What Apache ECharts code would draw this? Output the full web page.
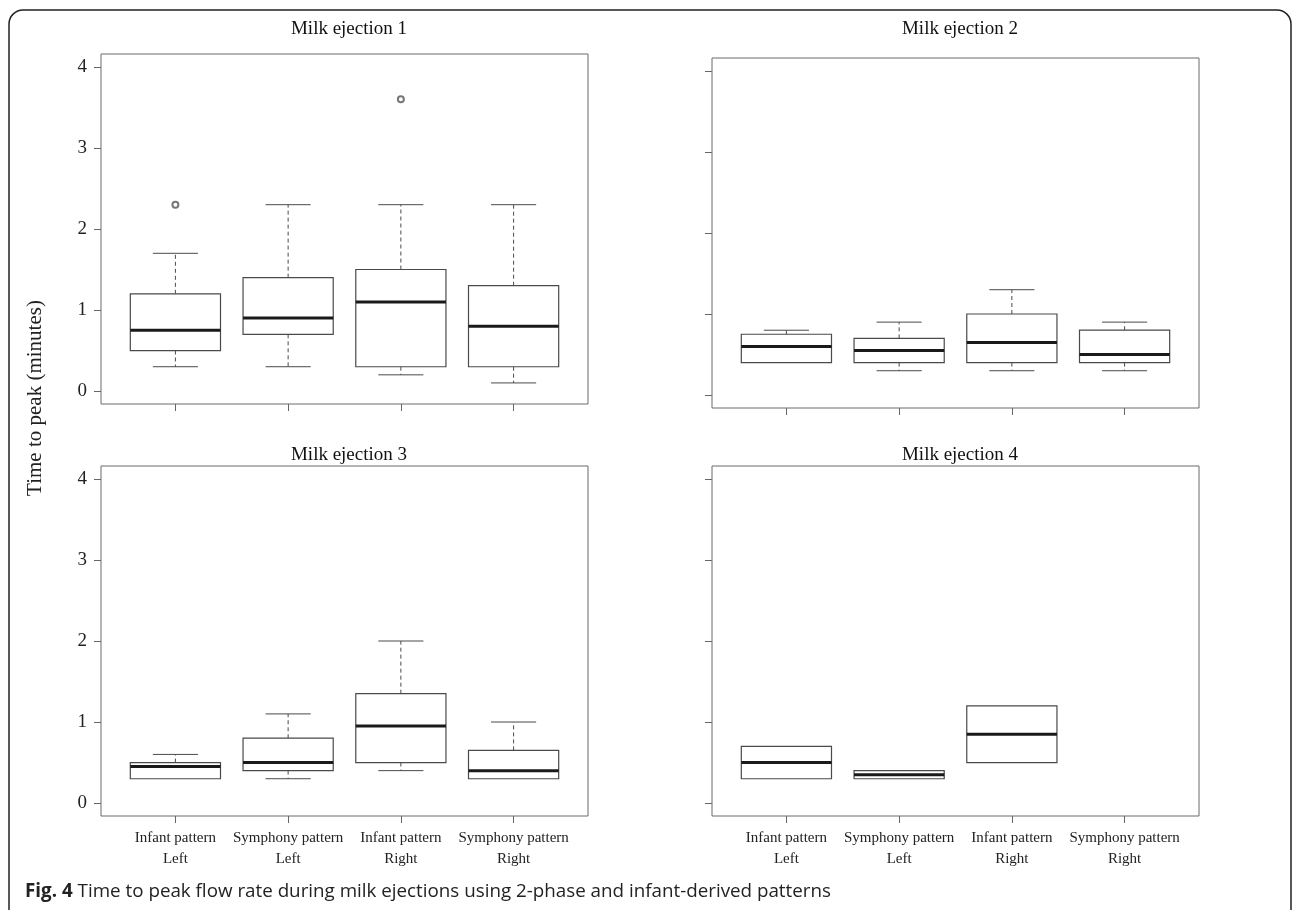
<!DOCTYPE html>
<html>
<head>
<meta charset="utf-8">
<script src="https://cdn.jsdelivr.net/npm/echarts@6/dist/echarts.min.js"></script>
<style>
html,body{margin:0;padding:0;background:#fff;}
#chart{width:1293px;height:910px;}
</style>
</head>
<body>
<div id="chart"></div>
<script>
// ---- Data ----
const categories = ['Infant pattern\nLeft', 'Symphony pattern\nLeft', 'Infant pattern\nRight', 'Symphony pattern\nRight'];
const panelTitles = ['Milk ejection 1', 'Milk ejection 2', 'Milk ejection 3', 'Milk ejection 4'];
const yTicks = [0, 1, 2, 3, 4];
// each box: [lowerWhisker, Q1, median, Q3, upperWhisker]
const boxes1 = [[0.3, 0.5, 0.75, 1.2, 1.7], [0.3, 0.7, 0.9, 1.4, 2.3], [0.2, 0.3, 1.1, 1.5, 2.3], [0.1, 0.3, 0.8, 1.3, 2.3]];
const boxes2 = [[0.4, 0.4, 0.6, 0.75, 0.8], [0.3, 0.4, 0.55, 0.7, 0.9], [0.3, 0.4, 0.65, 1.0, 1.3], [0.3, 0.4, 0.5, 0.8, 0.9]];
const boxes3 = [[0.3, 0.3, 0.45, 0.5, 0.6], [0.3, 0.4, 0.5, 0.8, 1.1], [0.4, 0.5, 0.95, 1.35, 2.0], [0.3, 0.3, 0.4, 0.65, 1.0]];
const boxes4 = [[0.3, 0.3, 0.5, 0.7, 0.7], [0.3, 0.3, 0.35, 0.4, 0.4], [0.5, 0.5, 0.85, 1.2, 1.2], null];
// outliers: [categoryIndex(1-based), value]
const outliers1 = [[1, 2.3], [3, 3.6]];
const outliers2 = [];
const outliers3 = [];
const outliers4 = [];

const allBoxes = [boxes1, boxes2, boxes3, boxes4];
const allOutliers = [outliers1, outliers2, outliers3, outliers4];

const SERIF = '"Liberation Serif", "Times New Roman", serif';
const SANS = '"Open Sans", "Noto Sans", sans-serif';
const gridPos = [
  {left: 101, top: 54, width: 487, height: 350},
  {left: 712, top: 58, width: 487, height: 350},
  {left: 101, top: 466, width: 487, height: 350},
  {left: 712, top: 466, width: 487, height: 350}
];
const titlePos = [
  {x: 344, y: 15}, {x: 955, y: 15}, {x: 344, y: 441}, {x: 955, y: 441}
];

const chart = echarts.init(document.getElementById('chart'));

function renderBox(params, api) {
  const x = api.value(0);
  const lo = api.value(1), q1 = api.value(2), med = api.value(3), q3 = api.value(4), hi = api.value(5);
  const bw = api.size([0.8, 0])[0];
  const cw = api.size([0.4, 0])[0];
  const pLo = api.coord([x, lo]);
  const pQ1 = api.coord([x, q1]);
  const pMed = api.coord([x, med]);
  const pQ3 = api.coord([x, q3]);
  const pHi = api.coord([x, hi]);
  const cx = pMed[0];
  const stroke = '#4a4a4a';
  const children = [];
  if (hi > q3) {
    children.push({type: 'line', shape: {x1: cx, y1: pQ3[1], x2: cx, y2: pHi[1]}, style: {stroke: stroke, lineWidth: 1, lineDash: [4, 3]}});
    children.push({type: 'line', shape: {x1: cx - cw / 2, y1: pHi[1], x2: cx + cw / 2, y2: pHi[1]}, style: {stroke: stroke, lineWidth: 1}});
  }
  if (lo < q1) {
    children.push({type: 'line', shape: {x1: cx, y1: pQ1[1], x2: cx, y2: pLo[1]}, style: {stroke: stroke, lineWidth: 1, lineDash: [4, 3]}});
    children.push({type: 'line', shape: {x1: cx - cw / 2, y1: pLo[1], x2: cx + cw / 2, y2: pLo[1]}, style: {stroke: stroke, lineWidth: 1}});
  }
  children.push({type: 'rect', shape: {x: cx - bw / 2, y: pQ3[1], width: bw, height: pQ1[1] - pQ3[1]}, style: {stroke: stroke, fill: '#fff', lineWidth: 1.2}});
  children.push({type: 'line', shape: {x1: cx - bw / 2, y1: pMed[1], x2: cx + bw / 2, y2: pMed[1]}, style: {stroke: '#1a1a1a', lineWidth: 3}});
  return {type: 'group', children: children};
}

const grids = [], xAxes = [], yAxes = [], series = [], titles = [];
for (let i = 0; i < 4; i++) {
  grids.push(Object.assign({show: true, borderColor: '#6a6a6a', borderWidth: 1, backgroundColor: '#fff'}, gridPos[i]));
  const bottomRow = i >= 2;
  const leftCol = i % 2 === 0;
  xAxes.push({
    type: 'value', gridIndex: i, min: 0.34, max: 4.66, position: 'bottom',
    splitLine: {show: false}, axisLine: {show: false, onZero: false},
    axisTick: {show: true, inside: false, customValues: [1, 2, 3, 4], length: 7, lineStyle: {color: '#666'}},
    axisLabel: {show: bottomRow, customValues: [1, 2, 3, 4], margin: 12,
      formatter: function (v) { return categories[Math.round(v) - 1] || ''; },
      fontFamily: SERIF, fontSize: 15, color: '#222', lineHeight: 21}
  });
  yAxes.push({
    type: 'value', gridIndex: i, min: -0.16, max: 4.16, position: 'left',
    splitLine: {show: false}, axisLine: {show: false, onZero: false},
    axisTick: {show: true, inside: false, customValues: yTicks, length: 7, lineStyle: {color: '#666'}},
    axisLabel: {show: leftCol, customValues: yTicks, margin: 14, fontFamily: SERIF, fontSize: 19, color: '#222'}
  });
  const boxData = [];
  allBoxes[i].forEach(function (b, k) {
    if (b) boxData.push([k + 1].concat(b));
  });
  series.push({
    type: 'custom', xAxisIndex: i, yAxisIndex: i, renderItem: renderBox,
    data: boxData, encode: {x: 0, y: [1, 2, 3, 4, 5]}, silent: true, clip: false
  });
  if (allOutliers[i].length) {
    series.push({
      type: 'scatter', xAxisIndex: i, yAxisIndex: i, data: allOutliers[i], z: 5,
      symbol: 'emptyCircle', symbolSize: 6, itemStyle: {color: '#555', borderColor: '#555', borderWidth: 1}, silent: true
    });
  }
  titles.push({
    text: panelTitles[i], left: titlePos[i].x, top: titlePos[i].y, textAlign: 'center',
    textStyle: {fontFamily: SERIF, fontSize: 19, fontWeight: 'normal', color: '#111'}
  });
}
titles.push({
  text: '{b|Fig. 4} {n|Time to peak flow rate during milk ejections using 2-phase and infant-derived patterns}',
  left: 20, top: 877,
  textStyle: {
    rich: {
      b: {fontFamily: SANS, fontSize: 18.8, fontWeight: 'bold', color: '#222'},
      n: {fontFamily: SANS, fontSize: 18.8, fontWeight: 'normal', color: '#222'}
    }
  }
});

chart.setOption({
  animation: false,
  backgroundColor: '#fff',
  title: titles,
  grid: grids,
  xAxis: xAxes,
  yAxis: yAxes,
  series: series,
  graphic: [
    {type: 'rect', shape: {x: 9, y: 10, width: 1282, height: 940, r: 14}, style: {stroke: '#222', fill: 'none', lineWidth: 1.5}, silent: true, z: -1},
    {type: 'text', x: 35, y: 398, rotation: Math.PI / 2,
      style: {text: 'Time to peak (minutes)', fontFamily: SERIF, fontSize: 21, fill: '#222', textAlign: 'center', textVerticalAlign: 'middle'}}
  ]
});
</script>
</body>
</html>
